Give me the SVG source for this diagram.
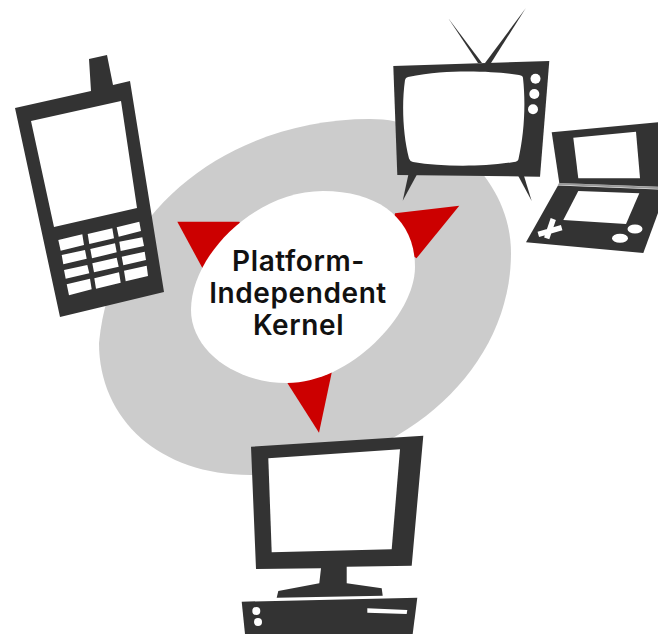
<svg xmlns="http://www.w3.org/2000/svg" width="658" height="634" viewBox="0 0 658 634">
<style>
.d{fill:#333}
.w{fill:#fff}
.r{fill:#c00}
.x{stroke:#fff;stroke-width:5.5;fill:none}
text{font-family:Inter,"Open Sans","Liberation Sans",sans-serif;font-weight:600;font-size:28px;letter-spacing:.6px;fill:#111;text-anchor:middle}
</style>
<rect width="658" height="634" fill="#fff"/>
<g id="ring">
<path fill="#ccc" d="M99,343 C112,205 235,119 370,119 C445,119 511,180 511,253 C511,378 388,475 250,475 C160,475 99,420 99,343Z"/>
</g>
<g id="connectors">
<polygon class="r" points="177.3,221.7 239.3,221.7 250,240 225,268 202.5,268.3"/>
<polygon class="r" points="395,213.3 459.3,205.7 416.5,258.3 390,240"/>
<polygon class="r" points="287.5,383.3 300,370 331.8,372.2 319,432.7"/>
</g>
<g id="kernel">
<path class="w" d="M191,310 C191,255 255,191 323,191 C380,191 415,220 415,267 C415,315 350,383 287,383 C235,383 191,350 191,310Z"/>
<text x="298.5" y="270.5">Platform-</text>
<text x="298" y="303">Independent</text>
<text x="298.5" y="335">Kernel</text>
</g>
<g id="phone">
<path class="d" fill-rule="evenodd" d="M15,108 L91,91 L89,59 L107,55 L113,85 L130,81 L164,292 L60,317 Z M31,121 L121,101 L137,208 L54,227 Z"/>
<path class="w" d="M58.3,240L82.3,234.3L84,245L60.7,250.7ZM61.7,255L85,250L86.7,258.7L63.3,264.3ZM64,270L87.3,265L89.3,273.3L65.7,278.7ZM66.7,284.3L90,278.7L91.7,289.3L69,295.3ZM87.7,234L112.3,228.3L114,238.3L89.3,244ZM90.3,249L115,243.3L116.7,252.3L92,258.3ZM92.3,263.3L116.7,257.7L118.7,266.7L94,272.3ZM94.3,278.3L119,272.3L120.7,282.7L96,288.7ZM116.7,227.3L139.3,221.7L141,231L118.7,236.7ZM119.3,241.7L142.3,237.3L144,246L120.7,251ZM121.7,256.7L144.7,251.7L146,260L123.3,265.3ZM124,270.7L146.7,265.7L148,276L125.7,281.3Z"/>
</g>
<g id="tv">
<polygon class="d" points="448.3,18.3 478,63 482,63"/>
<polygon class="d" points="525.7,8.3 485,63 491,63"/>
<polygon class="d" points="408.3,175 416.7,175 402.7,200.7"/>
<polygon class="d" points="518.3,176 524,176 531.7,201"/>
<polygon class="d" points="393.3,66 549.3,61 540,176.7 397.3,175"/>
<path class="w" d="M408,77 C430,72.5 450,71.5 467,71.5 C490,71.5 505,73 519,75 Q523,75.5 523,78 C526,105 524,135 518.5,159 Q518,161.5 514,162 C495,165 480,165.7 463,165.7 C445,165.7 428,164.5 413,162 Q410,161.5 409,158.5 C403,135 401.5,105 405,80 Q405.5,77.5 408,77Z"/>
<circle class="w" cx="535.5" cy="78.7" r="5"/>
<circle class="w" cx="534.3" cy="94" r="5"/>
<circle class="w" cx="533" cy="109.3" r="5"/>
</g>
<g id="handheld">
<polygon fill="#999" points="559,183 658,187 658,189 558,185"/>
<polygon class="d" points="551.7,132.3 658,122.3 658,186.7 559.3,183"/>
<polygon class="d" points="558,185.5 658,189.5 658,213 643.3,253 526,242.3"/>
<polygon class="w" points="573.3,137.7 636,131.7 640,178.3 578.3,178.3"/>
<polygon class="w" points="578.3,191 639.3,193.3 626,224 563.3,220"/>
<path class="x" d="M538.3,234.3L561.7,227.7M553.3,219L546.7,238.3"/>
<ellipse class="w" cx="635" cy="229" rx="7.5" ry="4.5"/>
<ellipse class="w" cx="620" cy="238.3" rx="8" ry="4.5"/>
</g>
<g id="desktop">
<polygon class="d" points="251,446.7 423.3,435.7 411.7,565.7 346.7,566.7 346.7,583.3 381.7,588.3 382.7,595.7 276.7,597.7 278.3,591 319.3,583.3 321,568.3 256,569"/>
<polygon class="w" points="268.3,458.3 400,449.3 391.7,549.3 271.7,552.3"/>
<polygon class="d" points="241.7,601.7 417.3,597.7 412.7,634 245,634"/>
<circle class="w" cx="256.3" cy="611" r="4"/>
<circle class="w" cx="258" cy="622" r="4"/>
<polygon class="w" points="367.3,608.3 407.3,610 406.7,614 367.3,612.7"/>
</g>
</svg>
